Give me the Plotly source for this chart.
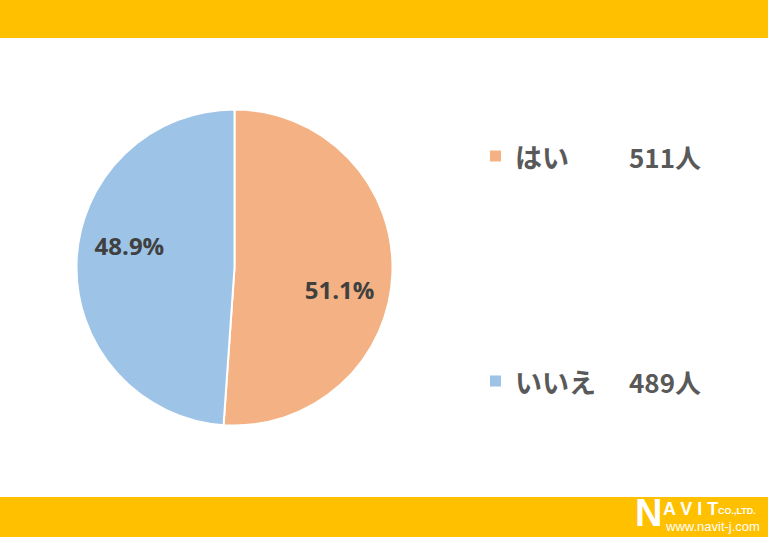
import plotly.graph_objects as go

labels = ["はい", "いいえ"]
counts = [511, 489]
percent_labels = ["51.1%", "48.9%"]
colors = ["#F4B183", "#9DC3E6"]

W, H = 768, 537
pie_domain = dict(x=[76.5 / W, 392.5 / W], y=[1 - 425.5 / H, 1 - 109.5 / H])

fig = go.Figure()
fig.add_trace(go.Pie(
    labels=labels,
    values=counts,
    textinfo="none",
    sort=False,
    direction="clockwise",
    rotation=0,
    marker=dict(colors=colors, line=dict(color="white", width=2)),
    domain=pie_domain,
    showlegend=False,
    hoverinfo="label+value+percent",
))
# transparent ring used only to place the percentage labels further out
fig.add_trace(go.Pie(
    labels=labels,
    values=counts,
    text=percent_labels,
    texttemplate="%{text}",
    textposition="inside",
    insidetextorientation="horizontal",
    hole=0.36,
    sort=False,
    direction="clockwise",
    rotation=10,
    marker=dict(colors=["rgba(0,0,0,0)"] * 2, line=dict(width=0)),
    textfont=dict(family="Open Sans, Noto Sans, sans-serif", size=24, color="#404040", weight="bold"),
    domain=pie_domain,
    showlegend=False,
    hoverinfo="skip",
))

shapes = [
    dict(type="rect", xref="paper", yref="paper", x0=0, x1=1, y0=1 - 38 / H, y1=1,
         fillcolor="#FFC000", line=dict(width=0), layer="below"),
    dict(type="rect", xref="paper", yref="paper", x0=0, x1=1, y0=0, y1=1 - 497 / H,
         fillcolor="#FFC000", line=dict(width=0), layer="below"),
]
annotations = []
row_y = [156, 381]
jp_font = "Noto Sans CJK JP, Noto Sans, sans-serif"
for i, (lab, cnt) in enumerate(zip(labels, counts)):
    yc = 1 - row_y[i] / H
    shapes.append(dict(type="rect", xref="paper", yref="paper",
                       x0=490 / W, x1=501 / W, y0=yc - 5.5 / H, y1=yc + 5.5 / H,
                       fillcolor=colors[i], line=dict(width=0)))
    annotations.append(dict(x=513 / W, y=yc, xref="paper", yref="paper", text=lab,
                            showarrow=False, xanchor="left", yanchor="middle",
                            font=dict(family=jp_font, size=27, color="#595959", weight="bold")))
    annotations.append(dict(x=627 / W, y=yc, xref="paper", yref="paper", text=f"{cnt}人",
                            showarrow=False, xanchor="left", yanchor="middle",
                            font=dict(family=jp_font, size=26, color="#595959", weight="bold")))

# logo
logo_font = "Liberation Sans, Arial, sans-serif"
annotations.append(dict(x=633 / W, y=1 - 513 / H, xref="paper", yref="paper",
                        text="<b>N</b>", showarrow=False, xanchor="left", yanchor="middle",
                        font=dict(family=logo_font, size=38, color="white")))
annotations.append(dict(x=661 / W, y=1 - 509 / H, xref="paper", yref="paper",
                        text="<b>A V I T</b>", showarrow=False, xanchor="left", yanchor="middle",
                        font=dict(family=logo_font, size=18, color="white")))
annotations.append(dict(x=716 / W, y=1 - 511 / H, xref="paper", yref="paper",
                        text="<b>CO.,LTD.</b>", showarrow=False, xanchor="left", yanchor="middle",
                        font=dict(family=logo_font, size=9, color="white")))
annotations.append(dict(x=663 / W, y=1 - 526 / H, xref="paper", yref="paper",
                        text="www.navit-j.com", showarrow=False, xanchor="left", yanchor="middle",
                        font=dict(family=logo_font, size=13, color="white")))

fig.update_layout(
    width=W, height=H,
    margin=dict(l=0, r=0, t=0, b=0),
    paper_bgcolor="white",
    plot_bgcolor="white",
    shapes=shapes,
    annotations=annotations,
)
fig.write_html("out.html", config={"displayModeBar": False},
               post_script="document.body.style.margin='0';document.body.style.overflow='hidden';")
